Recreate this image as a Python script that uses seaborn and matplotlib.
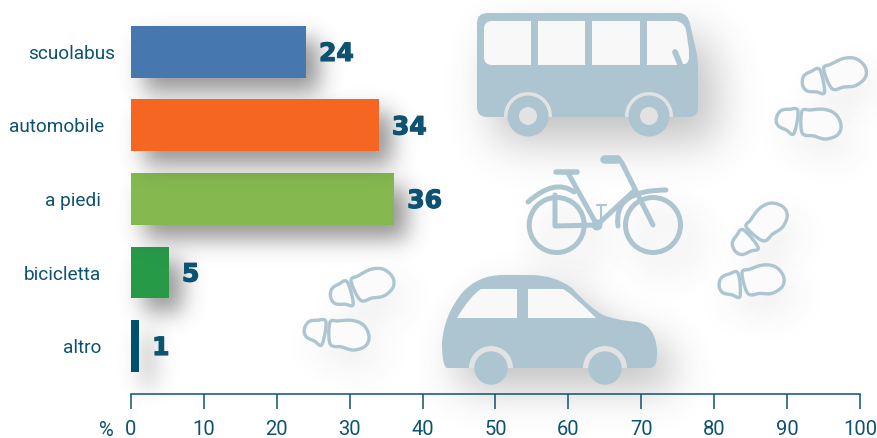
"""Means of getting to school: horizontal bars with decorative vehicle icons."""

import matplotlib.patheffects as pe
import matplotlib.pyplot as plt
import numpy as np
import pandas as pd
import seaborn as sns
from matplotlib.patches import Circle, PathPatch, Rectangle
from matplotlib.path import Path

CATEGORIES = ["scuolabus", "automobile", "a piedi", "bicicletta", "altro"]
VALUES = [24, 34, 36.1, 5.2, 1.1]
VALUE_LABELS = ["24", "34", "36", "5", "1"]
BAR_COLORS = ["#4677ae", "#f56623", "#85b84e", "#269a47", "#004f6f"]
TICKS = [0, 10, 20, 30, 40, 50, 60, 70, 80, 90, 100]
LABEL_PADS = [11.5, 19.5, 21.5, 21.5, 21.5]

TEXT = "#0d5270"
ICON = "#acc5d0"
RING = "#e2e2e2"
GLASS = "#f8f8f8"
W, H = 878, 438


class BlurShadow:
    """agg filter: turn whatever was drawn into a blurred, offset shadow."""

    def __init__(self, ox, oy, sigma, alpha, gray=0.33):
        self.ox, self.oy, self.sigma, self.alpha, self.gray = ox, oy, sigma, alpha, gray

    def __call__(self, im, dpi):
        pad = int(3 * self.sigma + max(abs(self.ox), abs(self.oy)) + 2)
        a = np.pad(im[:, :, 3], pad, "constant")
        x = np.arange(-int(3 * self.sigma), int(3 * self.sigma) + 1)
        kernel = np.exp(-0.5 * (x / self.sigma) ** 2)
        kernel /= kernel.sum()
        a = np.apply_along_axis(np.convolve, 0, a, kernel, "same")
        a = np.apply_along_axis(np.convolve, 1, a, kernel, "same")
        a = np.roll(np.roll(a, self.oy, axis=0), self.ox, axis=1)
        out = np.full(a.shape + (4,), self.gray)
        out[:, :, 3] = a * self.alpha
        return out, -pad, -pad


def curve(points):
    """Closed path; a point given as (x, y, 1) is a quadratic control point."""
    verts, codes = [points[0][:2]], [Path.MOVETO]
    for p in points[1:]:
        verts.append(p[:2])
        codes.append(Path.CURVE3 if len(p) == 3 else Path.LINETO)
    verts.append(points[0][:2])
    codes.append(Path.LINETO)
    return Path(verts, codes)


def spline(points, n=12):
    """Closed Catmull-Rom outline through the points."""
    pts = np.array(points, float)
    out = []
    for i in range(len(pts)):
        p0, p1, p2, p3 = pts[i - 1], pts[i], pts[(i + 1) % len(pts)], pts[(i + 2) % len(pts)]
        for t in np.linspace(0, 1, n, endpoint=False):
            out.append(0.5 * (2 * p1 + (p2 - p0) * t + (2 * p0 - 5 * p1 + 4 * p2 - p3) * t ** 2
                              + (3 * p1 - p0 - 3 * p2 + p3) * t ** 3))
    return np.array(out)


def draw_bus(ax):
    body = curve([
        (488, 13), (680, 13), (688, 14, 1), (690, 24), (696, 50), (698, 58, 1), (698, 68),
        (698, 108), (698, 117, 1), (688, 117), (487, 117), (477, 117, 1), (477, 107),
        (477, 23), (477, 13, 1), (488, 13),
    ])
    ax.add_patch(PathPatch(body, fc="k", ec="none", zorder=1, agg_filter=BlurShadow(18, 24, 22, 0.36)))
    patch = PathPatch(body, fc=ICON, ec="none", zorder=2)
    ax.add_patch(patch)
    windows = [
        curve([(492, 21), (531, 21), (531, 65), (492, 65), (484, 65, 1), (484, 57), (484, 29), (484, 21, 1), (492, 21)]),
        curve([(538, 21), (585, 21), (585, 65), (538, 65)]),
        curve([(592, 21), (640, 21), (640, 65), (592, 65)]),
        curve([(647, 21), (676, 21), (684, 22, 1), (686, 30), (689, 50), (689, 58), (688, 65, 1), (683, 64), (676, 65), (647, 65)]),
    ]
    for w in windows:
        ax.add_patch(PathPatch(w, fc=GLASS, ec="none", zorder=3))
    ax.plot([675, 680], [52, 64], color=ICON, lw=4.2, solid_capstyle="round", zorder=4)
    for cx in (528, 649):
        ring = Circle((cx, 116), 24, fc=RING, ec="none", zorder=4)
        ax.add_patch(ring)
        ring.set_clip_path(patch)
        ax.add_patch(Circle((cx, 116), 20.5, fc=ICON, ec="none", zorder=5))
        ax.add_patch(Circle((cx, 116), 9, fc=RING, ec="none", zorder=6))


def draw_car(ax):
    body = curve([
        (447, 368), (442, 366, 1), (442, 343), (444, 315, 1), (462, 293), (478, 275, 1), (503, 275),
        (530, 275), (555, 275, 1), (572, 288), (590, 308, 1), (603, 315), (615, 320, 1), (637, 322),
        (655, 325, 1), (657, 350), (658, 368, 1), (650, 368),
    ])
    ax.add_patch(PathPatch(body, fc="k", ec="none", zorder=1, agg_filter=BlurShadow(16, 20, 20, 0.36)))
    patch = PathPatch(body, fc=ICON, ec="none", zorder=2)
    ax.add_patch(patch)
    ax.add_patch(PathPatch(curve([(457, 318), (470, 296, 1), (481, 289), (517, 289), (517, 318)]), fc=GLASS, ec="none", zorder=3))
    ax.add_patch(PathPatch(curve([(528, 318), (528, 289), (563, 289), (570, 292, 1), (596, 318)]), fc=GLASS, ec="none", zorder=3))
    for cx in (491, 605):
        ring = Circle((cx, 368), 22, fc=RING, ec="none", zorder=4)
        ax.add_patch(ring)
        ring.set_clip_path(patch)
        ax.add_patch(Circle((cx, 368), 16.7, fc=ICON, ec="none", zorder=5))


def draw_bike(ax):
    lw = 3.6
    strokes = [
        ([555, 555, 597], [195, 226, 225], lw),
        ([568, 597], [173, 225], lw),
        ([597, 635], [225, 190], lw),
        ([618, 622, 653], [158, 163, 225], lw),
        ([556, 577], [172, 172], lw * 1.1),
        ([604, 617], [159, 159], lw * 1.7),
        ([601, 601], [206, 219], 1.5),
        ([597, 606], [205, 205], 1.5),
    ]
    rear = Path([(528, 202), (555, 178), (574, 192)], [Path.MOVETO, Path.CURVE3, Path.CURVE3])
    front = Path([(618, 226), (613, 190), (666, 190)], [Path.MOVETO, Path.CURVE3, Path.CURVE3])
    for p in (rear, front):
        ax.add_patch(PathPatch(p, fc="none", ec=ICON, lw=lw, capstyle="round", zorder=2))
    for cx in (556.7, 653):
        ax.add_patch(Circle((cx, 225), 27.5, fc="none", ec="k", lw=lw, zorder=1, agg_filter=BlurShadow(14, 16, 16, 0.32)))
        ax.add_patch(Circle((cx, 225), 27.5, fc="none", ec=ICON, lw=lw, zorder=2))
    for xs, ys, width in strokes:
        ax.plot(xs, ys, color=ICON, lw=width, solid_capstyle="round", zorder=3)
    ax.add_patch(Circle((597, 225), 5.5, fc=ICON, ec="none", zorder=3))


SOLE = [(2, -11), (10, -14), (24, -17), (36, -14), (43, -4), (41, 6), (30, 12), (18, 11), (6, 10)]
HEEL = [(-2, -11), (-11, -11), (-19, -8), (-22, 0), (-19, 7), (-10, 10), (-2, 12)]
PRINTS = [(352, 292, -15), (326, 333, 10), (824, 80, -12), (798, 122, 10), (752, 237, -40), (741, 284, -5)]


def draw_print(ax, x, y, angle):
    rad = np.radians(angle)
    rot = np.array([[np.cos(rad), -np.sin(rad)], [np.sin(rad), np.cos(rad)]])
    for shape in (SOLE, HEEL):
        pts = spline(shape) @ rot.T + (x, y)
        ax.fill(pts[:, 0], pts[:, 1], color="k", lw=0, zorder=1, agg_filter=BlurShadow(10, 16, 18, 0.13))
        ax.fill(pts[:, 0], pts[:, 1], fc="#fbfbfb", ec=ICON, lw=2.4, zorder=2)


def draw_bars(ax):
    df = pd.DataFrame({"mode": CATEGORIES, "value": VALUES})
    sns.barplot(data=df, y="mode", x="value", hue="mode", palette=BAR_COLORS, width=0.707,
                saturation=1, legend=False, linewidth=0, ax=ax)
    ax.set_xlim(0, 100)
    ax.set_ylim(4.646, -0.707)
    ax.set_xlabel("")
    ax.set_ylabel("")

    # shadows fall over the bar below, except the top one
    bars = sorted(ax.patches, key=lambda b: -b.get_y())
    for i, bar in enumerate(bars):
        shadow = Rectangle(bar.get_xy(), bar.get_width(), bar.get_height(), fc="k", ec="none",
                           clip_on=False, agg_filter=BlurShadow(13, 14, 11, 0.62))
        shadow.set_zorder(0.5 if i == len(bars) - 1 else 2 * i + 1)
        ax.add_patch(shadow)
        bar.set_zorder(2 * i + 2)

    for container, text in zip(ax.containers, VALUE_LABELS):
        labels = ax.bar_label(container, labels=[text], padding=9.4, fontsize=18, fontweight="bold",
                              color=TEXT, family="DejaVu Sans", zorder=20)
        for label in labels:
            label.xyann = (label.xyann[0], -1.4)
            label.set_path_effects([pe.withStroke(linewidth=0.9, foreground=TEXT)])

    for side in ("top", "left", "right"):
        ax.spines[side].set_visible(False)
    ax.spines["bottom"].set_color(TEXT)
    ax.spines["bottom"].set_linewidth(1.1)
    ax.set_xticks(TICKS)
    ax.tick_params(axis="x", bottom=True, length=10.8, width=1.1, color=TEXT, labelcolor=TEXT, pad=8.5,
                   labelsize=14.5, labelfontfamily="Roboto")
    ax.tick_params(axis="y", length=0, labelcolor=TEXT, labelsize=13.7, labelfontfamily="Roboto")
    for tick, pad in zip(ax.yaxis.get_major_ticks(), LABEL_PADS):
        tick.set_pad(pad)
    ax.annotate("%", xy=(0, 0), xycoords="axes fraction", xytext=(-25, -43), textcoords="offset pixels",
                color=TEXT, fontsize=14.5, family="Roboto", ha="center", va="baseline",
                annotation_clip=False)


def main():
    sns.set_theme(style="white")
    fig = plt.figure(figsize=(W / 100, H / 100), dpi=100, facecolor="white")

    icons = fig.add_axes([0, 0, 1, 1], zorder=0)
    icons.set_xlim(0, W)
    icons.set_ylim(H, 0)
    icons.axis("off")
    draw_bus(icons)
    draw_bike(icons)
    draw_car(icons)
    for x, y, angle in PRINTS:
        draw_print(icons, x, y, angle)

    ax = fig.add_axes([131 / W, (H - 393.5) / H, 729 / W, 393.5 / H], zorder=1)
    ax.patch.set_visible(False)
    draw_bars(ax)

    fig.savefig("out.png", dpi=100)


if __name__ == "__main__":
    main()
